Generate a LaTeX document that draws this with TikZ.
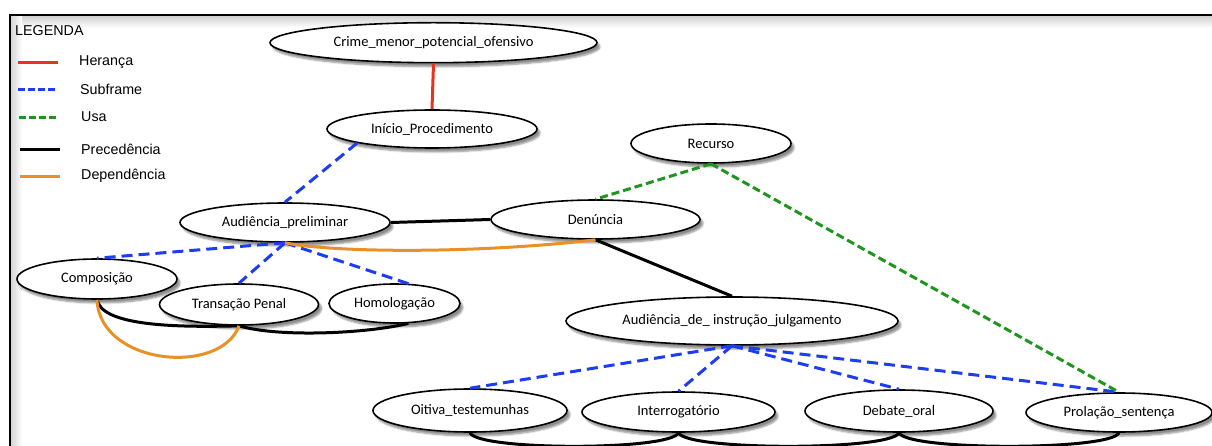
\documentclass[tikz,border=0pt]{standalone}
\usepackage{fontspec}
\newfontfamily\nodefont{Carlito}
\newfontfamily\legfont{Liberation Sans}
\usetikzlibrary{shapes.geometric,shadows.blur,calc}

\definecolor{herred}{RGB}{232,52,30}
\definecolor{subblue}{RGB}{30,60,240}
\definecolor{usagreen}{RGB}{30,150,30}
\definecolor{deporange}{RGB}{232,145,40}

\tikzset{
  fnode/.style={ellipse, draw, fill=white, line width=1.6pt, inner sep=0pt,
    font=\nodefont\fontsize{14.5}{16}\selectfont,
    blur shadow={shadow xshift=3pt, shadow yshift=-4pt, shadow blur steps=6, shadow opacity=45}},
  heranca/.style={draw=herred, line width=3pt},
  subframe/.style={draw=subblue, line width=3pt, dash pattern=on 11pt off 6pt},
  usa/.style={draw=usagreen, line width=3pt, dash pattern=on 8pt off 4pt},
  precedencia/.style={draw=black, line width=3pt},
  dependencia/.style={draw=deporange, line width=3pt},
  legtext/.style={anchor=west, inner sep=0pt, font=\legfont\fontsize{14.3}{16}\selectfont}
}

\begin{document}
\begin{tikzpicture}[x=1pt, y=-1pt]
\useasboundingbox (0,0) rectangle (1212,446);

% outer frame with its soft inner shadow
\shade[top color=black!18, bottom color=white] (10,16) rectangle (1212,28);
\shade[left color=black!18, right color=white] (10,16) rectangle (22,446);
\draw[line width=2pt] (9.5,446) -- (9.5,15) -- (1212,15);

% legend
\node[legtext] (legtitle) at (15,31) {LEGENDA};
\coordinate (lh1) at (18,62.5);  \coordinate (lh2) at (58,62.5);
\coordinate (ls1) at (18,90);    \coordinate (ls2) at (58,90);
\coordinate (lu1) at (19,118);   \coordinate (lu2) at (59,118);
\coordinate (lp1) at (20,150);   \coordinate (lp2) at (60,150);
\coordinate (ld1) at (20,177);   \coordinate (ld2) at (60,177);
\draw[heranca] (lh1) -- (lh2);
\draw[subframe, dash pattern=on 7pt off 3pt] (ls1) -- (ls2);
\draw[usa, dash pattern=on 7pt off 3pt] (lu1) -- (lu2);
\draw[precedencia] (lp1) -- (lp2);
\draw[dependencia] (ld1) -- (ld2);
\node[legtext] (lgher) at (79,62) {Herança};
\node[legtext] (lgsub) at (80,89) {Subframe};
\node[legtext] (lgusa) at (81,117) {Usa};
\node[legtext] (lgpre) at (81,149) {Precedência};
\node[legtext] (lgdep) at (81,176) {Dependência};

% frames
\node[fnode, minimum width=327pt, minimum height=40pt] (crime) at (433.5,42.7) {Crime\_menor\_potencial\_ofensivo};
\node[fnode, minimum width=210pt, minimum height=38pt] (ini) at (432,129) {Início\_Procedimento};
\node[fnode, minimum width=160pt, minimum height=39pt] (rec) at (711,143.5) {Recurso};
\node[fnode, minimum width=210pt, minimum height=39pt] (ap) at (285,222.5) {Audiência\_preliminar};
\node[fnode, minimum width=209pt, minimum height=39pt] (den) at (595.5,219.5) {Denúncia};
\node[fnode, minimum width=160pt, minimum height=40pt] (comp) at (97,279) {Composição};
\node[fnode, minimum width=159pt, minimum height=41pt] (tp) at (239,304.5) {Transação Penal};
\node[fnode, minimum width=131pt, minimum height=39pt] (hom) at (394.5,303.5) {Homologação};
\node[fnode, minimum width=332pt, minimum height=48pt] (aij) at (732,321) {Audiência\_de\_ instrução\_julgamento};
\node[fnode, minimum width=194pt, minimum height=43pt] (oit) at (470,410.5) {Oitiva\_testemunhas};
\node[fnode, minimum width=193pt, minimum height=40pt] (int) at (678.5,412) {Interrogatório};
\node[fnode, minimum width=188pt, minimum height=42pt] (deb) at (899,411) {Debate\_oral};
\node[fnode, minimum width=186pt, minimum height=39pt] (prol) at (1119,412.5) {Prolação\_sentença};

% inheritance
\draw[heranca] (crime.south) -- (ini.north);

% subframes
\draw[subframe] (ini.south west) -- (ap.north);
\draw[subframe] (ap.south) -- (comp.north);
\draw[subframe] (ap.south) -- (tp.north);
\draw[subframe] (ap.south) -- (hom.55);
\draw[subframe] (aij.south) -- (oit.north);
\draw[subframe] (aij.south) -- (int.north);
\draw[subframe] (aij.south) -- (deb.north);
\draw[subframe] (aij.south) -- (prol.north);

% uses
\draw[usa] (rec.south) -- (den.north);
\draw[usa] (rec.south) -- (prol.north);

% precedence
\draw[precedencia] (ap.east) -- (den.west);
\draw[precedencia] (den.south) -- (aij.north);
\draw[precedencia] (comp.south) .. controls +(5,25) and +(-70,2) .. (tp.south);
\draw[precedencia] (tp.south) .. controls +(40,12) and +(-40,10) .. (hom.-55);
\draw[precedencia] (oit.south) .. controls +(8,18) and +(-8,18) .. (int.south);
\draw[precedencia] (int.south) .. controls +(8,18) and +(-8,18) .. (deb.south);
\draw[precedencia] (deb.south) .. controls +(8,18) and +(-8,18) .. (prol.south);

% dependence
\draw[dependencia] (ap.south) .. controls +(50,10) and +(-120,14) .. (den.south);
\draw[dependencia] (comp.south) .. controls +(3,66) and +(-18,50) .. (tp.south);
\end{tikzpicture}
\end{document}
